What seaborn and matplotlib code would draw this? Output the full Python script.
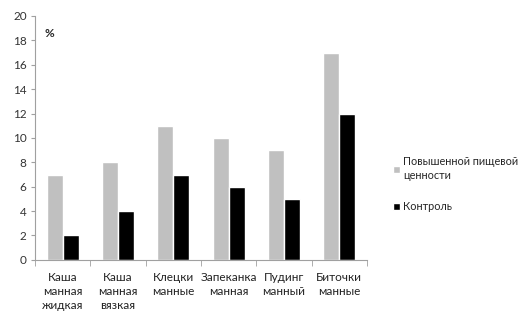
import numpy as np
import pandas as pd
import matplotlib
matplotlib.use("Agg")
import matplotlib.pyplot as plt
import seaborn as sns

# DATA
categories = [
    "Каша\nманная\nжидкая",
    "Каша\nманная\nвязкая",
    "Клецки\nманные",
    "Запеканка\nманная",
    "Пудинг\nманный",
    "Биточки\nманные",
]
series_names = ["Повышенной пищевой\nценности", "Контроль"]
enhanced = [7, 8, 11, 10, 9, 17]
control = [2, 4, 7, 6, 5, 12]

df = pd.DataFrame({
    "category": categories * 2,
    "series": [series_names[0]] * len(categories) + [series_names[1]] * len(categories),
    "value": enhanced + control,
})

sns.set_style("white")
plt.rcParams["font.family"] = ["Lato", "DejaVu Sans"]

fig = plt.figure(figsize=(5.22, 3.12), dpi=100)
ax = fig.add_axes([0.067, 0.167, 0.636, 0.782])

sns.barplot(
    data=df, x="category", y="value", hue="series",
    palette=["#c0c0c0", "#000000"], width=0.58, ax=ax,
    saturation=1, errorbar=None,
)

ax.set_ylim(0, 20)
ax.set_yticks(np.arange(0, 21, 2))
ax.set_xlim(-0.5, len(categories) - 0.5)
ax.set_xlabel("")
ax.set_ylabel("")

for s in ["top", "right"]:
    ax.spines[s].set_visible(False)
for s in ["left", "bottom"]:
    ax.spines[s].set_color("#a0a0a0")
    ax.spines[s].set_linewidth(0.8)

ax.tick_params(axis="y", labelsize=8.5, colors="#a0a0a0", labelcolor="#333333",
               length=3, direction="out", left=True, pad=3)
ax.tick_params(axis="x", which="major", length=0, labelsize=8.5,
               labelcolor="#222222", pad=9)
for lbl in ax.get_xticklabels():
    lbl.set_linespacing(1.3)
ax.set_xticks(np.arange(-0.5, len(categories)), minor=True)
ax.tick_params(axis="x", which="minor", length=4, color="#a0a0a0",
               direction="out", bottom=True)

ax.text(0.03, 0.95, "%", transform=ax.transAxes, fontsize=8.5,
        fontweight="bold", va="top", ha="left")

leg = ax.legend(loc="center left", bbox_to_anchor=(1.05, 0.31), frameon=False,
                fontsize=7.8, handlelength=0.6, handleheight=0.6,
                handletextpad=0.3, labelspacing=1.9)
for t in leg.get_texts():
    t.set_linespacing(1.25)

fig.savefig("out.png", dpi=100)
